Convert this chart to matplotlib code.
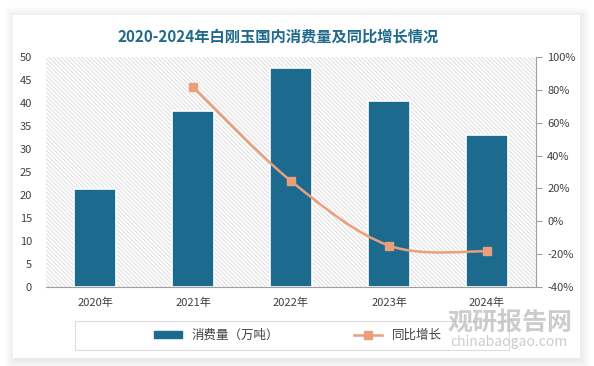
import matplotlib
matplotlib.use("Agg")
from matplotlib import pyplot as plt
from matplotlib.patches import Rectangle
from matplotlib.path import Path
from matplotlib.patches import PathPatch
from matplotlib.lines import Line2D
import numpy as np

plt.rcParams['font.family'] = ['Noto Sans CJK SC', 'DejaVu Sans']
plt.rcParams['hatch.linewidth'] = 0.7

# 数据
anos = ['2020年', '2021年', '2022年', '2023年', '2024年']
consumo = [21.3, 38.3, 47.6, 40.4, 33.0]
crescimento = [None, 81.7, 24.5, -14.8, -18.3]

cor_barra = '#1c6a8d'
cor_linha = '#e89f7c'
cor_texto = '#404040'

fig = plt.figure(figsize=(5.94, 3.66), dpi=100)
fig.patch.set_facecolor('white')

# cartão com sombra
W, H = 594, 366
for d in range(10, 0, -1):
    fig.patches.append(Rectangle(((13 - d + 2) / W, (8 - d - 2) / H), (567 + 2 * d - 2) / W,
                                 (343 + 2 * d) / H, transform=fig.transFigure,
                                 facecolor='black', alpha=0.008, edgecolor='none', zorder=-3))
fig.patches.append(Rectangle((13 / W, 8 / H), 567 / W, 343 / H, transform=fig.transFigure,
                             facecolor='white', edgecolor='none', zorder=-2))

ax = fig.add_axes([46 / W, 79 / H, 490 / W, 230 / H])
ax.set_facecolor('none')
ax2 = ax.twinx()

x = np.arange(len(anos))
ax.set_xlim(-0.5, len(anos) - 0.5)
ax.set_ylim(0, 50)
ax2.set_ylim(-40, 100)

# fundo hachurado
ax.add_patch(Rectangle((0, 0), 1, 1, transform=ax.transAxes, facecolor='white',
                       edgecolor='#dcdcdc', linewidth=0, hatch='\\' * 8, zorder=0))

ax.bar(x, consumo, width=0.43, color=cor_barra, edgecolor='white', linewidth=1.2, zorder=2)

# linha suavizada (Bezier)
px = [x[i] for i in range(len(anos)) if crescimento[i] is not None]
py = [v for v in crescimento if v is not None]
pts = np.column_stack([px, py])
verts = [pts[0]]
codes = [Path.MOVETO]
n = len(pts)
for i in range(n - 1):
    p0 = pts[i - 1] if i > 0 else pts[i]
    p1 = pts[i]
    p2 = pts[i + 1]
    p3 = pts[i + 2] if i + 2 < n else pts[i + 1]
    c1 = p1 + (p2 - p0) / 6
    c2 = p2 - (p3 - p1) / 6
    verts += [c1, c2, p2]
    codes += [Path.CURVE4] * 3
ax2.add_patch(PathPatch(Path(verts, codes), facecolor='none', edgecolor=cor_linha,
                        linewidth=1.8, zorder=3))
ax2.plot(px, py, linestyle='none', marker='s', markersize=6, color=cor_linha, zorder=4)

for s in ['top', 'left', 'right']:
    ax.spines[s].set_visible(False)
ax.spines['bottom'].set_color('#a0a0a0')
for s in ['top', 'left', 'bottom']:
    ax2.spines[s].set_visible(False)
ax2.spines['right'].set_color('#a0a0a0')

ax.set_xticks(x)
ax.set_xticklabels(anos)
ax.tick_params(axis='x', length=0, pad=8, labelsize=8, labelcolor=cor_texto)
ax.set_yticks(np.arange(0, 51, 5))
ax.tick_params(axis='y', length=0, pad=10, labelsize=8, labelcolor=cor_texto)
ax2.set_yticks(np.arange(-40, 101, 20))
ax2.set_yticklabels([f'{v}%' for v in range(-40, 101, 20)])
ax2.tick_params(axis='y', length=4, color='#a0a0a0', pad=4, labelsize=8, labelcolor=cor_texto)

fig.text(278 / W, 1 - 37 / H, '2020-2024年白刚玉国内消费量及同比增长情况', ha='center', va='center',
         fontsize=11, fontweight='bold', color='#1f6a8c')

# legenda
fig.patches.append(Rectangle((75 / W, 16 / H), 434 / W, 29 / H, transform=fig.transFigure,
                             facecolor='white', edgecolor='#dddddd', linewidth=0.8, zorder=1))
handles = [Rectangle((0, 0), 1, 1, color=cor_barra),
           Line2D([], [], color=cor_linha, linewidth=1.8, marker='s', markersize=6)]
fig.legend(handles, ['消费量（万吨）', '同比增长'], loc='center', bbox_to_anchor=(298 / W, 30.5 / H),
           ncol=2, frameon=False, fontsize=9, labelcolor=cor_texto, columnspacing=6,
           handlelength=2.2, handleheight=0.5)

# marca d'água
fig.text(510 / W, 1 - 323 / H, '观研报告网', ha='center', va='center', fontsize=18,
         fontweight='bold', color='#c0c0c0', alpha=0.8)
fig.text(509 / W, 1 - 342 / H, 'chinabaogao.com', ha='center', va='center', fontsize=10,
         color='#c0c0c0', alpha=0.8)

fig.savefig('out.png', dpi=100)
